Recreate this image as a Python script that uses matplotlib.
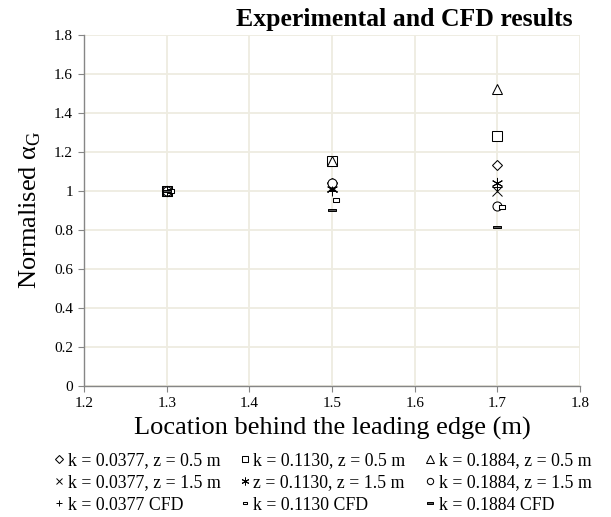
import numpy as np
import matplotlib
matplotlib.use("Agg")
import matplotlib.pyplot as plt
from matplotlib.path import Path

# Messpunkte (Abstand hinter der Vorderkante in m)
locations = [1.3, 1.5, 1.7]
locations_cfd_0113 = [1.305, 1.505, 1.705]

# Normalisierte Werte je Serie
exp_0377_z05 = [1.0, 1.04, 1.13]
exp_1130_z05 = [1.0, 1.15, 1.28]
exp_1884_z05 = [1.0, 1.15, 1.52]
exp_0377_z15 = [1.0, 1.02, 1.0]
exp_1130_z15 = [1.0, 1.01, 1.04]
exp_1884_z15 = [1.0, 1.04, 0.92]
cfd_0377 = [1.0, 1.0, 1.02]
cfd_1130 = [1.0, 0.952, 0.918]
cfd_1884 = [1.0, 0.90, 0.812]

labels = [
    "k = 0.0377, z = 0.5 m", "k = 0.1130, z = 0.5 m", "k = 0.1884, z = 0.5 m",
    "k = 0.0377, z = 1.5 m", "z = 0.1130, z = 1.5 m", "k = 0.1884, z = 1.5 m",
    "k = 0.0377 CFD", "k = 0.1130 CFD", "k = 0.1884 CFD",
]

plt.rcParams["font.family"] = ["Liberation Serif", "DejaVu Serif"]
plt.rcParams["mathtext.fontset"] = "custom"
plt.rcParams["mathtext.rm"] = "Liberation Serif"

# eigene Marker: flaches Rechteck
rect_path = Path([(-1, -0.45), (1, -0.45), (1, 0.45), (-1, 0.45), (-1, -0.45)],
                 [Path.MOVETO, Path.LINETO, Path.LINETO, Path.LINETO, Path.CLOSEPOLY])
dash_path = Path([(-1, -0.3), (1, -0.3), (1, 0.3), (-1, 0.3), (-1, -0.3)],
                 [Path.MOVETO, Path.LINETO, Path.LINETO, Path.LINETO, Path.CLOSEPOLY])

fig = plt.figure(figsize=(6.11, 5.17), dpi=100)
ax = fig.add_axes([0.1375, 0.254, 0.812, 0.679])

open_kw = dict(linestyle="none", markerfacecolor="white", markeredgecolor="black",
               markeredgewidth=0.75)
line_kw = dict(linestyle="none", color="black", markeredgewidth=0.7)

h = {}
h[0] = ax.plot(locations, exp_0377_z05, marker="D", markersize=5.5, label=labels[0], **open_kw)[0]
h[1] = ax.plot(locations, exp_1130_z05, marker="s", markersize=7, label=labels[1], **open_kw)[0]
h[2] = ax.plot(locations, exp_1884_z05, marker="^", markersize=7.5, label=labels[2], **open_kw)[0]
h[3] = ax.plot(locations, exp_0377_z15, marker="x", markersize=7, label=labels[3], **line_kw)[0]
h[4] = ax.plot(locations, exp_1130_z15, marker=(6, 2, 0), markersize=8, label=labels[4], **line_kw)[0]
h[5] = ax.plot(locations, exp_1884_z15, marker="o", markersize=6.5, label=labels[5], **open_kw)[0]
h[6] = ax.plot(locations, cfd_0377, marker="+", markersize=7, label=labels[6], **line_kw)[0]
h[7] = ax.plot(locations_cfd_0113, cfd_1130, marker=rect_path, markersize=5, label=labels[7], **open_kw)[0]
h[8] = ax.plot(locations, cfd_1884, marker=dash_path, markersize=6, linestyle="none",
               markerfacecolor="#555555", markeredgecolor="black", markeredgewidth=0.7,
               label=labels[8])[0]

# Achsen im Excel-Stil
ax.set_xlim(1.2, 1.8)
ax.set_ylim(0, 1.8)
ax.set_xticks(np.arange(1.2, 1.81, 0.1))
ax.set_yticks(np.arange(0, 1.81, 0.2))
ax.xaxis.set_major_formatter(plt.FuncFormatter(lambda v, p: "%g" % round(v, 2)))
ax.yaxis.set_major_formatter(plt.FuncFormatter(lambda v, p: "%g" % round(v, 2)))
ax.grid(True, color="#EEECE1", linewidth=1.3)
ax.set_axisbelow(True)
for s in ["top", "right"]:
    ax.spines[s].set_visible(False)
for s in ["left", "bottom"]:
    ax.spines[s].set_color("#868686")
    ax.spines[s].set_linewidth(1.0)
ax.tick_params(direction="out", length=4, color="#868686", labelsize=11, pad=4)

ax.set_xlabel("Location behind the leading edge (m)", fontsize=19, labelpad=5)
ax.set_ylabel(r"Normalised α$_\mathrm{G}$", fontsize=19, labelpad=8)
fig.text(0.937, 0.963, "Experimental and CFD results", fontsize=18.5, fontweight="bold",
         ha="right", va="center")

# Legende: Excel füllt zeilenweise, matplotlib spaltenweise
order = [0, 3, 6, 1, 4, 7, 2, 5, 8]
fig.legend([h[i] for i in order], [labels[i] for i in order], ncol=3, loc="center",
           bbox_to_anchor=(0.527, 0.066), frameon=False, fontsize=12.8,
           handlelength=0.7, handletextpad=0.15, columnspacing=1.0, labelspacing=0.3,
           markerscale=0.7, borderpad=0.2)

fig.savefig("out.png", dpi=100)
